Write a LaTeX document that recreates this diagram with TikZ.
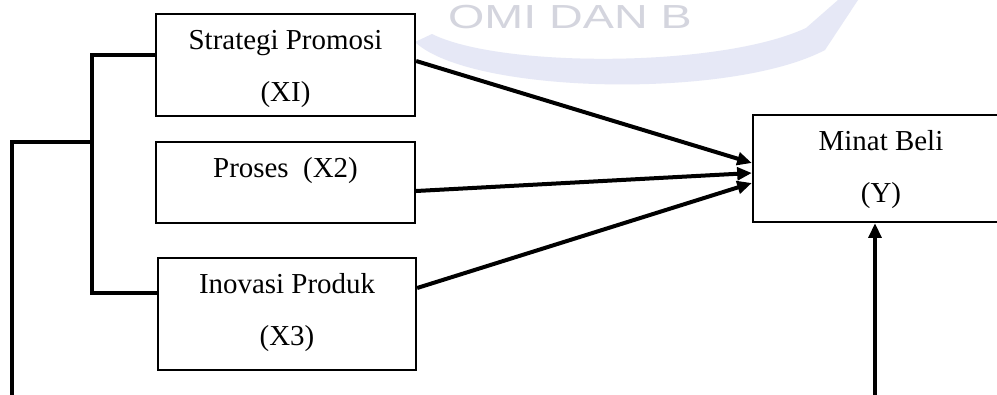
\documentclass[tikz,border=0pt]{standalone}
\usepackage{fontspec}
\setmainfont{Liberation Serif}
\newfontfamily\wmfont{Liberation Sans}
\usetikzlibrary{arrows.meta}
\definecolor{wmband}{RGB}{230,232,246}
\definecolor{wmtext}{RGB}{212,213,222}
\tikzset{
  box/.style={draw=black, line width=1.7pt, rectangle, inner sep=0pt},
  lbl/.style={align=center, font=\fontsize{21.7}{39}\selectfont, inner sep=0pt},
  conn/.style={line width=3pt, line join=miter},
  arr/.style={line width=3pt, -{Triangle[length=11pt,width=9.5pt]}},
}
\begin{document}
\begin{tikzpicture}[x=0.75pt,y=-0.75pt]
\useasboundingbox (0,0) rectangle (997,394);
\clip (0,0) rectangle (997,394);
\fill[white] (0,0) rectangle (997,394);
% faint watermark
\fill[wmband] (415,42) .. controls (470,94) and (730,100) .. (825,50) -- (858,0) -- (838,0) -- (806,28)
  .. controls (720,68) and (500,68) .. (432,34) -- cycle;
\node[wmtext, anchor=base, inner sep=0pt, font=\wmfont\fontsize{25}{25}\selectfont, xscale=1.4] (wmt) at (570,28) {OMI DAN B};
% boxes
\node[box, minimum width=259*0.75pt, minimum height=102*0.75pt] (b1) at (285.5,65) {};
\node[box, minimum width=259*0.75pt, minimum height=81*0.75pt] (b2) at (285.5,182.5) {};
\node[box, minimum width=258*0.75pt, minimum height=112*0.75pt] (b3) at (287,314) {};
\node[box, minimum width=256*0.75pt, minimum height=107*0.75pt] (b4) at (881,168.5) {};
% texts
\node[lbl] (t1) at (285.5,69) {Strategi Promosi\\(XI)};
\node[lbl] (t2) at (285.5,171) {Proses\ \ (X2)};
\node[lbl] (t3) at (287,312.5) {Inovasi Produk\\(X3)};
\node[lbl] (t4) at (881,170) {Minat Beli\\(Y)};
% bracket
\coordinate (top) at (92,55);
\coordinate (bot) at (92,293);
\coordinate (j) at (92,142);
\coordinate (lc) at (12,142);
\coordinate (le) at (12,398);
\draw[conn] (b1.west |- top) -- (top) -- (bot) -- (b3.west |- bot);
\draw[conn] (j) -- (lc) -- (le);
% arrows
\coordinate (s1) at (0,61);
\coordinate (s2) at (0,191);
\coordinate (s3) at (0,288);
\coordinate (e1) at (0,163);
\coordinate (e2) at (0,173);
\coordinate (e3) at (0,183);
\draw[arr] (b1.east |- s1) -- (b4.west |- e1);
\draw[arr] (b2.east |- s2) -- (b4.west |- e2);
\draw[arr] (b3.east |- s3) -- (b4.west |- e3);
\coordinate (vb) at (875,398);
\draw[arr] (vb) -- (vb |- b4.south);
\end{tikzpicture}
\end{document}
